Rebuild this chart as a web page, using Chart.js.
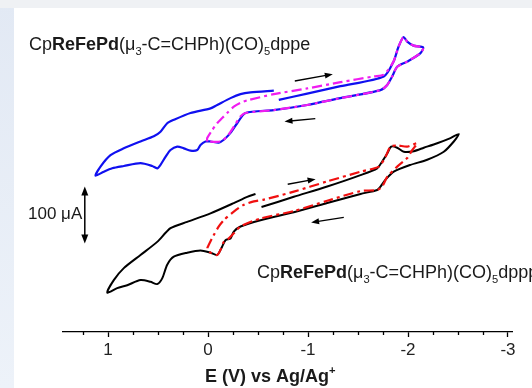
<!DOCTYPE html>
<html>
<head>
<meta charset="utf-8">
<script src="https://cdn.jsdelivr.net/npm/chart.js@4.4.1/dist/chart.umd.min.js"></script>
<style>
  html, body { margin: 0; padding: 0; background: #fff; }
  #wrap { width: 532px; height: 388px; }
</style>
</head>
<body>
<div id="wrap"><canvas id="cv" width="532" height="388"></canvas></div>
<script>
// potential E (V vs Ag/Ag+) and current I (uA, curves stacked)
var dppeE = [-0.708, -0.992, -1.325, -1.758, -1.855, -1.905, -1.955, -1.992, -2.055, -2.152, -2.125, -1.992, -1.892, -1.842, -1.792, -1.725,
  -1.325, -0.992, -0.655, -0.375, -0.292, -0.225, -0.158, -0.108, -0.025, 0.025, 0.075, 0.108, 0.175, 0.242, 0.308, 0.375, 0.425, 0.475,
  0.508, 0.558, 0.675, 0.842, 0.958, 1.042, 1.125, 1.075, 0.975, 0.842, 0.675, 0.542, 0.475, 0.408, 0.342, 0.175, -0.025, -0.092, -0.225,
  -0.325, -0.425, -0.658];
var dppeI = [407, 418, 431, 448, 474, 500, 517, 509, 502, 499, 489, 474, 465, 448, 433, 424,
  410, 398, 389, 384, 366, 349, 337, 332, 334, 334, 328, 319, 318, 322, 325, 319, 307, 293,
  287, 291, 296, 291, 287, 281, 274, 290, 310, 322, 334, 343, 351, 366, 372, 384, 392, 398, 410,
  417, 420, 423];

var dppe2E = [0.008, 0.008, -0.042, -0.092, -0.142, -0.192, -0.258, -0.325, -0.392, -0.658, -0.992, -1.325, -1.658, -1.758,
  -1.855, -1.905, -1.955, -1.992, -2.055, -2.152, -2.125, -1.992, -1.892, -1.842, -1.792, -1.725, -1.325, -0.992, -0.655, -0.375,
  -0.325, -0.258, -0.192, -0.125, 0.008];
var dppe2I = [334, 340, 354, 366, 375, 384, 395, 402, 406, 417, 427, 438, 448, 451,
  474, 500, 517, 509, 502, 499, 489, 474, 465, 448, 433, 424, 410, 398, 389, 384,
  378, 360, 343, 334, 334];

var dpppE = [-0.535, -0.858, -1.192, -1.525, -1.692, -1.742, -1.792, -1.832, -1.892, -1.958, -2.058, -2.158, -2.292, -2.425, -2.508,
  -2.458, -2.358, -2.192, -2.025, -1.858, -1.775, -1.725, -1.692, -1.525, -1.192, -0.858, -0.525, -0.325, -0.258, -0.225, -0.175,
  -0.142, -0.092, -0.025, 0.075, 0.208, 0.342, 0.408, 0.458, 0.508, 0.575, 0.675, 0.808, 0.908, 1.008, 0.942, 0.842, 0.675, 0.508,
  0.375, 0.208, -0.025, -0.258, -0.392, -0.475];
var dpppI = [219, 237, 255, 275, 287, 299, 313, 325, 323, 316, 317, 323, 331, 340, 347,
  334, 316, 302, 293, 281, 267, 255, 249, 242, 226, 210, 196, 185, 176, 164, 161,
  150, 135, 139, 143, 139, 132, 118, 94, 84, 88, 91, 82, 77, 69, 91, 112, 135, 158,
  182, 193, 208, 226, 237, 242];

var dppp2E = [0.008, -0.008, -0.058, -0.108, -0.158, -0.258, -0.358, -0.458, -0.558, -0.858, -1.192, -1.525, -1.708, -1.775, -1.825,
  -1.892, -1.992, -2.092, -2.042, -1.992, -1.892, -1.792, -1.742, -1.692, -1.525, -1.192, -0.858, -0.525, -0.325, -0.258, -0.208,
  -0.158, -0.125, -0.092, -0.025, 0.008];
var dppp2I = [147, 153, 170, 185, 196, 211, 223, 229, 232, 246, 264, 281, 290, 307, 325,
  327, 325, 331, 319, 305, 290, 272, 255, 249, 247, 230, 212, 199, 185, 173, 164,
  158, 144, 135, 139, 147];

var tickValues = [1, 0, -1, -2, -3];

// scan direction arrows and the 100 uA scale bar, in E / I units
var arrowFromE = [-0.868, -1.073, -0.797, -1.358];
var arrowFromI = [440, 374, 259, 201];
var arrowToE = [-1.248, -0.765, -1.076, -1.031];
var arrowToI = [452, 369, 268, 192];
var barE = 1.232;
var barI = [155, 255];

var FONT = '"Liberation Sans", Arial, Helvetica, sans-serif';
Chart.defaults.font.family = FONT;

function pts(xs, ys) {
  return xs.map(function (x, i) { return { x: x, y: ys[i] }; });
}

function arrowHead(ctx, x1, y1, x2, y2, len, half) {
  var a = Math.atan2(y2 - y1, x2 - x1);
  ctx.beginPath();
  ctx.moveTo(x1, y1);
  ctx.lineTo(x2 - len * 0.7 * Math.cos(a), y2 - len * 0.7 * Math.sin(a));
  ctx.stroke();
  ctx.beginPath();
  ctx.moveTo(x2, y2);
  ctx.lineTo(x2 - len * Math.cos(a) + half * Math.sin(a), y2 - len * Math.sin(a) - half * Math.cos(a));
  ctx.lineTo(x2 - len * Math.cos(a) - half * Math.sin(a), y2 - len * Math.sin(a) + half * Math.cos(a));
  ctx.closePath();
  ctx.fill();
}

// runs: [text, bold, sub/sup]
function richText(ctx, runs, x, y, size) {
  ctx.textBaseline = 'alphabetic';
  ctx.textAlign = 'left';
  runs.forEach(function (r) {
    var fs = r[2] ? size * 0.62 : size;
    ctx.font = (r[1] ? 'bold ' : '') + fs + 'px ' + FONT;
    var dy = r[2] === 'sub' ? size * 0.3 : (r[2] === 'sup' ? -size * 0.45 : 0);
    ctx.fillText(r[0], x, y + dy);
    x += ctx.measureText(r[0]).width;
  });
}

function compound(tail) {
  return [['Cp', false], ['ReFePd', true], ['(\u03bc', false], ['3', false, 'sub'],
    ['-C=CHPh)(CO)', false], ['5', false, 'sub'], [tail, false]];
}

var decor = {
  id: 'decor',
  beforeDraw: function (chart) {
    var ctx = chart.ctx;
    ctx.save();
    ctx.fillStyle = '#eff1f4';
    ctx.fillRect(0, 0, chart.width, chart.height);
    var g = ctx.createLinearGradient(0, 0, 0, chart.height);
    g.addColorStop(0, '#e2e9f4');
    g.addColorStop(1, '#edf2f9');
    ctx.fillStyle = g;
    ctx.fillRect(0, 8, 14, chart.height);
    ctx.fillStyle = '#ffffff';
    ctx.fillRect(14, 8, chart.width - 14, chart.height - 8);
    ctx.restore();
  },
  afterDraw: function (chart) {
    var ctx = chart.ctx, xs = chart.scales.x, ys = chart.scales.y;
    ctx.save();
    // minor ticks
    ctx.strokeStyle = '#000';
    ctx.lineWidth = 1.3;
    for (var v = 1.25; v >= -3; v -= 0.25) {
      if (Math.abs(v - Math.round(v)) < 1e-6) continue;
      var px = Math.round(xs.getPixelForValue(v)) + 0.5;
      ctx.beginPath();
      ctx.moveTo(px, xs.top);
      ctx.lineTo(px, xs.top + 3);
      ctx.stroke();
    }
    // scan arrows
    ctx.fillStyle = '#000';
    ctx.lineWidth = 1.3;
    for (var i = 0; i < arrowFromE.length; i++) {
      arrowHead(ctx, xs.getPixelForValue(arrowFromE[i]), ys.getPixelForValue(arrowFromI[i]),
        xs.getPixelForValue(arrowToE[i]), ys.getPixelForValue(arrowToI[i]), 8, 3);
    }
    // scale bar
    var bx = xs.getPixelForValue(barE);
    var b0 = ys.getPixelForValue(barI[0]), b1 = ys.getPixelForValue(barI[1]);
    var mid = (b0 + b1) / 2;
    ctx.lineWidth = 1.5;
    arrowHead(ctx, bx, mid, bx, b1, 9, 3.5);
    arrowHead(ctx, bx, mid, bx, b0, 9, 3.5);
    // texts
    ctx.fillStyle = '#1a1a1a';
    ctx.font = '17px ' + FONT;
    ctx.textBaseline = 'alphabetic';
    ctx.textAlign = 'left';
    ctx.fillText('100 \u03bcA', 28, 219);
    richText(ctx, compound('dppe'), 29, 50, 18);
    richText(ctx, compound('dppp'), 257, 278, 18);
    richText(ctx, [['E (V) vs Ag/Ag', true], ['+', true, 'sup']], 205, 382, 18);
    ctx.restore();
  }
};

new Chart(document.getElementById('cv'), {
  type: 'scatter',
  data: {
    datasets: [
      { label: 'dppe', data: pts(dppeE, dppeI), borderColor: '#1010f0', borderWidth: 2.2, order: 2 },
      { label: 'dppe narrow', data: pts(dppe2E, dppe2I), borderColor: '#f01cf0', borderWidth: 2.2, borderDash: [10, 4, 3, 4], order: 1 },
      { label: 'dppp', data: pts(dpppE, dpppI), borderColor: '#000000', borderWidth: 2, order: 2 },
      { label: 'dppp narrow', data: pts(dppp2E, dppp2I), borderColor: '#f01010', borderWidth: 2.2, borderDash: [10, 4, 3, 4], order: 1 }
    ]
  },
  options: {
    responsive: false,
    animation: false,
    showLine: true,
    elements: {
      point: { radius: 0, hoverRadius: 0 },
      line: { tension: 0.25, fill: false }
    },
    layout: { padding: { left: 63, right: 20, top: 8, bottom: 0 } },
    plugins: { legend: { display: false }, tooltip: { enabled: false } },
    scales: {
      x: {
        type: 'linear',
        reverse: true,
        min: -3.04,
        max: 1.45,
        afterBuildTicks: function (s) { s.ticks = tickValues.map(function (v) { return { value: v }; }); },
        afterFit: function (s) { s.height = 56; },
        border: { display: true, color: '#000', width: 1.3 },
        grid: { drawOnChartArea: false, drawTicks: true, tickLength: 5, tickColor: '#000', tickWidth: 1.3 },
        ticks: { color: '#222', font: { size: 17 }, padding: 3, maxRotation: 0, autoSkip: false,
          callback: function (v) { return String(v); } }
      },
      y: { display: false, min: 0, max: 568 }
    }
  },
  plugins: [decor]
});
</script>
</body>
</html>
